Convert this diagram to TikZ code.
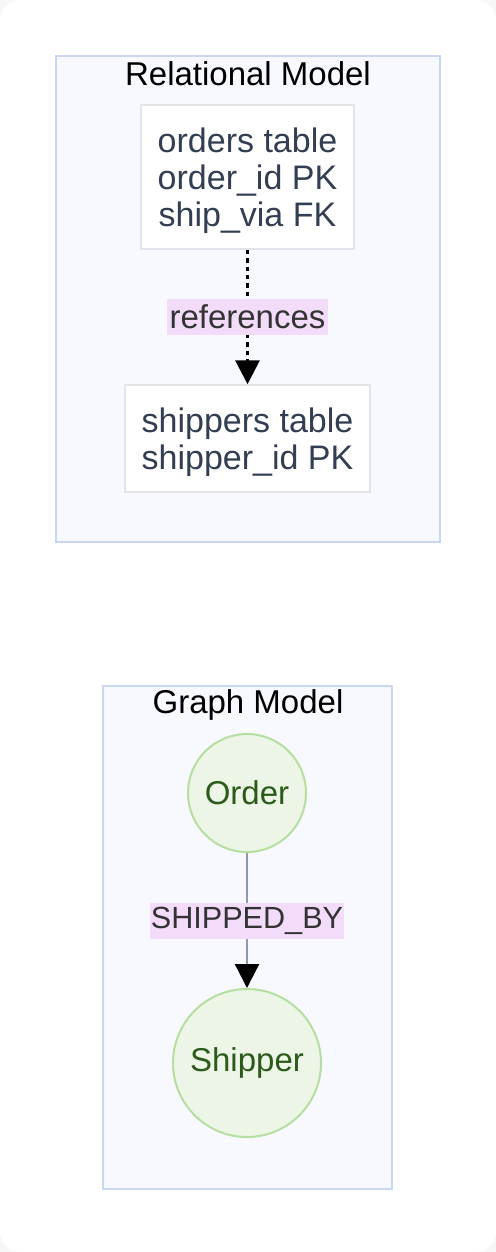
\documentclass[tikz,border=0pt]{standalone}
\usepackage{fontspec}
\setmainfont{Liberation Sans}
\usetikzlibrary{arrows.meta}
\definecolor{modelcolor0000}{RGB}{247,247,247}
\definecolor{modelcolor0001}{RGB}{248,249,254}
\definecolor{modelcolor0002}{RGB}{201,216,240}
\definecolor{modelcolor0003}{RGB}{226,228,232}
\definecolor{modelcolor0004}{RGB}{51,62,82}
\definecolor{modelcolor0005}{RGB}{243,220,250}
\definecolor{modelcolor0006}{RGB}{237,245,230}
\definecolor{modelcolor0007}{RGB}{181,223,160}
\definecolor{modelcolor0008}{RGB}{43,90,26}
\definecolor{modelcolor0009}{RGB}{141,153,174}
\definecolor{modelcolor0010}{RGB}{51,51,51}

\begin{document}
\begin{tikzpicture}[yscale=-1
,mfont/.style={font=\fontsize{16.5}{18.5}\selectfont}
,cluster/.style={draw=modelcolor0002,fill=modelcolor0001,line width=0.75pt}
,tablebox/.style={draw=modelcolor0003,fill=white,line width=0.75pt,align=center,font=\fontsize{17}{18.5}\selectfont,text=modelcolor0004,inner sep=0pt}
,entity/.style={circle,draw=modelcolor0007,fill=modelcolor0006,line width=1pt,mfont,text=modelcolor0008,inner sep=0pt}
,edgelabel/.style={fill=modelcolor0005,mfont,text=modelcolor0010,inner sep=0pt,minimum height=18pt}
,refline/.style={color=black,line width=1.5pt,dash pattern=on 2.2pt off 2pt,-{Triangle[length=12pt,width=12pt]}}
,relline/.style={color=modelcolor0009,line width=1.1pt,-{Triangle[length=12pt,width=12pt,color=black]}}
]
\useasboundingbox (0pt,0pt) rectangle (248pt,626pt);
\fill[modelcolor0000] (0pt,0pt) rectangle (248pt,626pt);
\fill[white,rounded corners=10pt] (0pt,0pt) rectangle (248pt,626pt);
% relational side
\draw[cluster] (28pt,28pt) rectangle (220pt,271pt);
\node[mfont,text=black] (reltitle) at (124pt,37pt) {Relational Model};
\node[tablebox,minimum width=106.5pt,minimum height=72pt] (orders) at (123.75pt,88.5pt) {\rule{0pt}{16.5pt}orders table\\order\_id PK\\ship\_via FK};
\node[tablebox,minimum width=122.5pt,minimum height=53.5pt] (shippers) at (123.75pt,219.25pt) {\rule{0pt}{16.5pt}shippers table\\shipper\_id PK};
\draw[refline] (orders) -- node[edgelabel,minimum width=80.5pt] (reflabel) {references} (shippers);
% graph side
\draw[cluster] (51.5pt,343pt) rectangle (196pt,594.5pt);
\node[mfont,text=black] (graphtitle) at (124pt,352.5pt) {Graph Model};
\node[entity,minimum size=59pt] (order) at (123.5pt,396.5pt) {Order};
\node[entity,minimum size=74pt] (shipper) at (123.5pt,531.5pt) {Shipper};
\draw[relline] (order) -- node[edgelabel,minimum width=97pt,font=\fontsize{15.3}{18.5}\selectfont] (shiplabel) {SHIPPED\_BY} (shipper);
\end{tikzpicture}
\end{document}
